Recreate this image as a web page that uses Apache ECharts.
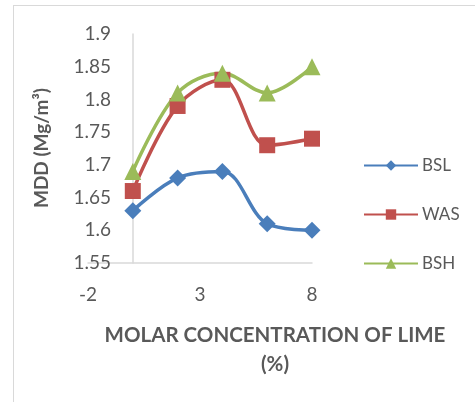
<!DOCTYPE html>
<html>
<head>
<meta charset="utf-8">
<script src="https://cdn.jsdelivr.net/npm/echarts@6/dist/echarts.min.js"></script>
<style>
  html, body { margin: 0; padding: 0; background: #fff; }
  #wrap { position: relative; width: 475px; height: 402px; overflow: hidden; }
  #frame { position: absolute; left: 13px; top: 5px; width: 500px; height: 420px; border: 1px solid #d9d9d9; box-sizing: border-box; }
  #chart { position: absolute; left: 0; top: 0; width: 475px; height: 402px; }
</style>
</head>
<body>
<div id="wrap">
  <div id="frame"></div>
  <div id="chart"></div>
</div>
<script>
// molar concentration of lime (%)
const limePct = [0, 2, 4, 6, 8];
// MDD values (Mg/m3)
const bslValues = [1.63, 1.68, 1.69, 1.61, 1.60];
const wasValues = [1.66, 1.79, 1.83, 1.73, 1.74];
const bshValues = [1.69, 1.81, 1.84, 1.81, 1.85];
const seriesNames = ["BSL", "WAS", "BSH"];

const pairs = (vals) => limePct.map((x, i) => [x, vals[i]]);

const chart = echarts.init(document.getElementById("chart"));
const font = "Lato, 'Open Sans', sans-serif";

const lineSeries = (name, vals, color, symbol, size) => ({
  name: name,
  type: "line",
  data: pairs(vals),
  smooth: 0.35,
  symbol: symbol,
  symbolSize: size,
  showAllSymbol: true,
  lineStyle: { color: color, width: 3.5 },
  itemStyle: { color: color },
  z: 3,
});

chart.setOption({
  animation: false,
  textStyle: { fontFamily: font },
  title: {
    text: "MOLAR CONCENTRATION OF LIME\n(%)",
    left: 270,
    top: 316,
    textAlign: "center",
    textStyle: {
      fontFamily: font,
      fontSize: 20.5,
      fontWeight: "bold",
      color: "#595959",
      lineHeight: 29,
    },
  },
  // y axis title
  graphic: [
    {
      type: "text",
      x: 42,
      y: 148,
      rotation: Math.PI / 2,
      style: {
        text: "MDD (Mg/m³)",
        align: "center",
        verticalAlign: "middle",
        font: "bold 19px " + font,
        fill: "#595959",
      },
    },
  ],
  legend: {
    orient: "vertical",
    left: 358,
    top: 152,
    itemWidth: 54,
    itemHeight: 13,
    itemGap: 32,
    textStyle: { fontFamily: font, fontSize: 17, color: "#595959", padding: [0, 0, 0, -1] },
    data: seriesNames,
  },
  grid: { left: 88, right: 163, top: 34, bottom: 139, outerBoundsMode: "none", containLabel: false },
  xAxis: {
    type: "value",
    min: -2,
    max: 8,
    interval: 5,
    axisLine: { lineStyle: { color: "#d9d9d9", width: 1.5 } },
    axisTick: { show: false },
    splitLine: { show: false },
    axisLabel: { color: "#595959", fontSize: 19, margin: 22 },
  },
  yAxis: {
    type: "value",
    min: 1.55,
    max: 1.9,
    interval: 0.05,
    axisLine: { show: true, onZero: true, lineStyle: { color: "#d9d9d9", width: 1.5 } },
    axisTick: { show: false },
    splitLine: { show: false },
    axisLabel: {
      color: "#595959",
      fontSize: 19,
      // labels stay at the grid edge, so pull them in to sit left of the x=0 line
      margin: -23,
      formatter: (v) => String(parseFloat(v.toFixed(2))),
    },
  },
  series: [
    lineSeries("BSL", bslValues, "#4a7ebb", "diamond", 17),
    lineSeries("WAS", wasValues, "#c0504d", "rect", 16),
    lineSeries("BSH", bshValues, "#9bbb59", "triangle", 17),
  ],
});
</script>
</body>
</html>
